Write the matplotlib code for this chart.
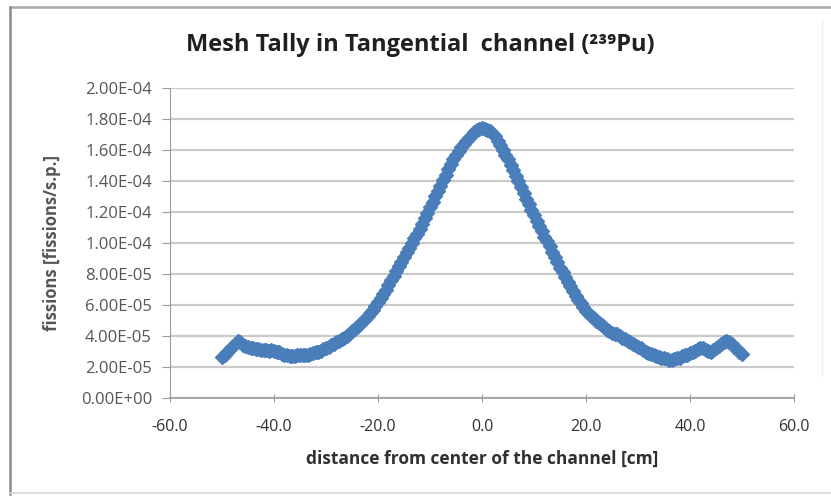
import matplotlib
matplotlib.use('Agg')
import matplotlib.pyplot as plt
from matplotlib.lines import Line2D
import numpy as np

plt.rcParams['font.family'] = ['Open Sans', 'DejaVu Sans']

# mesh tally along the tangential channel, 0.5 cm bins
distance_cm = np.arange(-50, 50.5, 0.5)
fissions_e5 = [
    2.65, 2.8, 3.0, 3.15, 3.3, 3.5, 3.7, 3.6, 3.45, 3.35,        # -50 .. -45.5
    3.3, 3.2, 3.2, 3.15, 3.15, 3.1, 3.1, 3.1, 3.05, 3.1,         # -45 .. -40.5
    3.05, 3.0, 2.95, 2.85, 2.8, 2.75, 2.7, 2.7, 2.7, 2.75,       # -40 .. -35.5
    2.75, 2.8, 2.8, 2.8, 2.85, 2.9, 2.95, 3.0, 3.05, 3.15,       # -35 .. -30.5
    3.25, 3.3, 3.4, 3.5, 3.6, 3.7, 3.8, 3.9, 4.0, 4.15,          # -30 .. -25.5
    4.3, 4.45, 4.6, 4.75, 4.9, 5.1, 5.3, 5.5, 5.7, 5.95,         # -25 .. -20.5
    6.2, 6.45, 6.7, 7.0, 7.3, 7.6, 7.9, 8.2, 8.5, 8.8,           # -20 .. -15.5
    9.1, 9.4, 9.7, 10.0, 10.3, 10.6, 10.9, 11.25, 11.6, 11.95,   # -15 .. -10.5
    12.3, 12.65, 13.0, 13.35, 13.7, 14.05, 14.4, 14.75, 15.1, 15.4,  # -10 .. -5.5
    15.7, 15.95, 16.2, 16.4, 16.6, 16.8, 17.0, 17.15, 17.3, 17.35,   # -5 .. -0.5
    17.4, 17.35, 17.3, 17.2, 17.1, 16.9, 16.6, 16.3, 16.0, 15.7,     # 0 .. 4.5
    15.4, 15.05, 14.7, 14.35, 14.0, 13.6, 13.2, 12.85, 12.5, 12.15,  # 5 .. 9.5
    11.8, 11.45, 11.1, 10.75, 10.4, 10.1, 9.8, 9.45, 9.1, 8.75,  # 10 .. 14.5
    8.4, 8.1, 7.8, 7.5, 7.2, 6.9, 6.6, 6.35, 6.1, 5.85,          # 15 .. 19.5
    5.6, 5.45, 5.3, 5.15, 5.0, 4.85, 4.7, 4.55, 4.4, 4.3,        # 20 .. 24.5
    4.2, 4.15, 4.1, 4.0, 3.9, 3.8, 3.7, 3.6, 3.5, 3.4,           # 25 .. 29.5
    3.3, 3.2, 3.1, 3.0, 2.9, 2.85, 2.8, 2.7, 2.65, 2.6,          # 30 .. 34.5
    2.55, 2.5, 2.45, 2.45, 2.5, 2.55, 2.6, 2.7, 2.75, 2.8,       # 35 .. 39.5
    2.9, 2.95, 3.05, 3.15, 3.25, 3.2, 3.1, 3.05, 3.0, 3.1,       # 40 .. 44.5
    3.2, 3.35, 3.5, 3.6, 3.7, 3.6, 3.5, 3.3, 3.15, 3.0,          # 45 .. 49.5
    2.85,                                                        # 50
]
fissions = np.array(fissions_e5) * 1e-5

x_ticks = [-60, -40, -20, 0, 20, 40, 60]
y_ticks = [i * 2e-5 for i in range(11)]
y_labels = ['0.00E+00'] + [f'{t:.2E}' for t in y_ticks[1:]]

fig = plt.figure(figsize=(8.31, 4.96), dpi=100)
ax = fig.add_axes([170 / 831, 1 - 398 / 496, 624 / 831, 310 / 496])

ax.plot(distance_cm, fissions, linestyle='none', marker='D', markersize=6.9,
        color='#4a7ebb', markeredgecolor='#4a7ebb')

ax.set_xlim(-60, 60)
ax.set_ylim(0, 2e-4)
ax.set_xticks(x_ticks)
ax.set_xticklabels([f'{t:.1f}' for t in x_ticks])
ax.set_yticks(y_ticks)
ax.set_yticklabels(y_labels)

ax.grid(axis='y', color='#cacaca', linewidth=1.6)
ax.set_axisbelow(True)
for side in ['top', 'right']:
    ax.spines[side].set_visible(False)
ax.spines['left'].set_color('#9a9a9a')
ax.spines['bottom'].set_color('#9a9a9a')
ax.spines['bottom'].set_linewidth(1.2)
ax.tick_params(axis='x', direction='inout', length=6, color='#9a9a9a',
               labelsize=11.5, labelcolor='#303030', pad=12)
ax.tick_params(axis='y', direction='out', length=6, color='#9a9a9a',
               labelsize=12, labelcolor='#555555', pad=7)

ax.set_xlabel('distance from center of the channel [cm]', fontsize=12.5,
              fontweight='bold', color='#303030', labelpad=11)
ax.set_ylabel('fissions [fissions/s.p.]', fontsize=12, fontweight='bold',
              color='#555555', labelpad=14)
fig.text(420 / 831, 1 - 45 / 496, 'Mesh Tally in Tangential  channel (²³⁹Pu)',
         ha='center', va='center', fontsize=17, fontweight='bold', color='#202020')

# chart area border
def px_line(x0, y0, x1, y1, color, lw):
    fig.add_artist(Line2D([x0 / 831, x1 / 831], [1 - y0 / 496, 1 - y1 / 496],
                          transform=fig.transFigure, color=color, linewidth=lw))

px_line(10, 7, 831, 7, '#a8a8a8', 1.8)
px_line(10, 7, 10, 494, '#8c8c8c', 1.8)
px_line(10, 493, 831, 493, '#d8d8d8', 1.2)
px_line(822, 20, 822, 376, '#eeeeee', 1.0)

fig.savefig('out.png', dpi=100)
